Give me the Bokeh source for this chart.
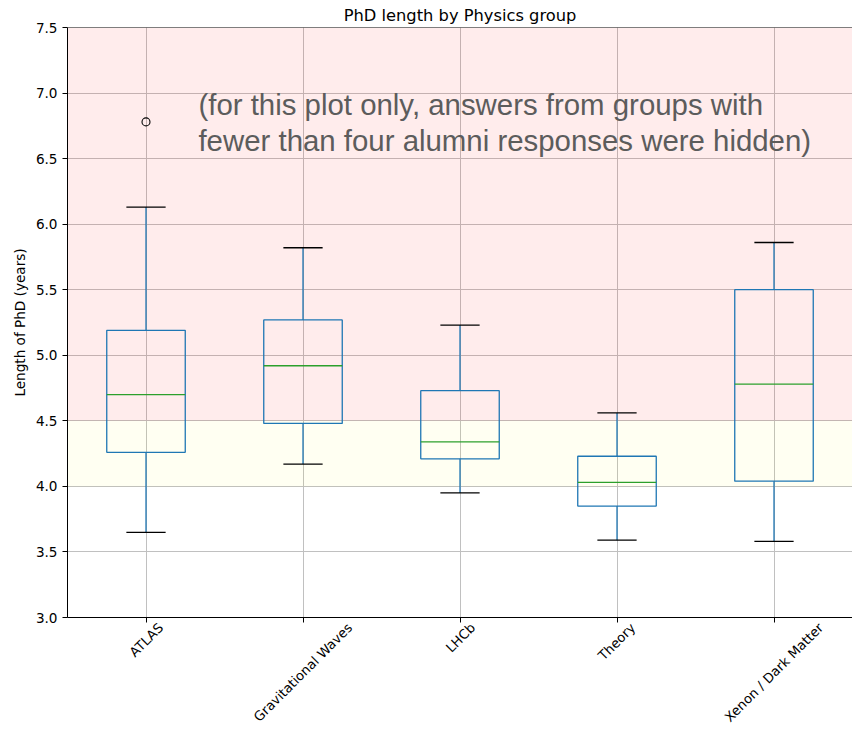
from bokeh.plotting import figure
from bokeh.models import (Range1d, FixedTicker, BoxAnnotation, Span, Label, LinearAxis,
                          PrintfTickFormatter, ColumnDataSource)
from bokeh.embed import file_html
from bokeh.resources import INLINE
import math

# ---- data ----
groups = ["ATLAS", "Gravitational Waves", "LHCb", "Theory", "Xenon / Dark Matter"]
whisker_low = [3.65, 4.17, 3.95, 3.59, 3.58]
q1 = [4.26, 4.48, 4.21, 3.85, 4.04]
median = [4.70, 4.92, 4.34, 4.03, 4.78]
q3 = [5.19, 5.27, 4.73, 4.23, 5.50]
whisker_high = [6.13, 5.82, 5.23, 4.56, 5.86]
outlier_group = ["ATLAS"]
outlier_value = [6.78]
y_ticks = [3.0, 3.5, 4.0, 4.5, 5.0, 5.5, 6.0, 6.5, 7.0, 7.5]
red_band = (4.5, 7.5)
yellow_band = (4.0, 4.5)

title = "PhD length by Physics group"
y_label = "Length of PhD (years)"
note = "(for this plot only, answers from groups with\nfewer than four alumni responses were hidden)"

# ---- layout ----
positions = [i + 1 for i in range(len(groups))]
pos_of = {g: p for g, p in zip(groups, positions)}
half_box = 0.25
half_cap = 0.125
PX_PER_UNIT = 157.0
# horizontal shift (px) so that each 45-degree label is centred on its tick
label_shift_px = [15, 47, 13, 16, 47]

BLUE = "#1f77b4"
GREEN = "#2ca02c"
FONT = "DejaVu Sans"

p = figure(width=852, height=733, output_backend="svg", toolbar_location=None,
           x_range=Range1d(0.5, 5.5), y_range=Range1d(3.0, 7.5),
           min_border_left=67, min_border_right=0, min_border_top=27,
           min_border_bottom=116)
p.outline_line_color = None
p.background_fill_color = "white"
p.border_fill_color = "white"

p.title.text = title
p.title.align = "center"
p.title.text_font = FONT
p.title.text_font_size = "16.3px"
p.title.text_font_style = "normal"
p.title.text_color = "black"
p.title.standoff = 6

# background bands
p.add_layout(BoxAnnotation(bottom=red_band[0], top=red_band[1], fill_color="red",
                           fill_alpha=0.075, line_color=None, level="underlay"))
p.add_layout(BoxAnnotation(bottom=yellow_band[0], top=yellow_band[1], fill_color="yellow",
                           fill_alpha=0.05, line_color=None, level="underlay"))

# grid
p.xgrid.ticker = FixedTicker(ticks=positions)
p.ygrid.ticker = FixedTicker(ticks=y_ticks)
for g in (p.xgrid, p.ygrid):
    g.grid_line_color = "#c0c0c0"
    g.grid_line_width = 1

# axes
p.yaxis.ticker = FixedTicker(ticks=y_ticks)
p.yaxis.formatter = PrintfTickFormatter(format="%.1f")
p.yaxis.axis_label = y_label
p.yaxis.axis_label_text_font = FONT
p.yaxis.axis_label_text_font_size = "13.6px"
p.yaxis.axis_label_text_font_style = "normal"
p.yaxis.axis_label_text_color = "black"
p.yaxis.axis_label_standoff = 5
p.xaxis.ticker = FixedTicker(ticks=positions)
p.xaxis.major_label_overrides = {pp: "" for pp in positions}
for ax in (p.xaxis, p.yaxis):
    ax.axis_line_color = "black"
    ax.axis_line_width = 1
    ax.major_tick_line_color = "black"
    ax.minor_tick_line_color = None
    ax.major_label_text_font = FONT
    ax.major_label_text_color = "black"
p.yaxis.major_tick_out = 5
p.yaxis.major_tick_in = 0
p.yaxis.major_label_text_font_size = "13.6px"
p.yaxis.major_label_standoff = 5
# x ticks drawn outward without reserving panel space
p.xaxis.major_tick_out = 0
p.xaxis.major_tick_in = -5
p.xaxis.major_label_text_font_size = "0px"
p.xaxis.major_label_standoff = 0

# category labels on a label-only axis (rotated 45 degrees)
label_ticks = [x + s / PX_PER_UNIT for x, s in zip(positions, label_shift_px)]
p.extra_x_ranges = {"lbl": Range1d(0.5, 5.5)}
lbl_axis = LinearAxis(x_range_name="lbl", ticker=FixedTicker(ticks=label_ticks),
                      major_label_overrides={t: g for t, g in zip(label_ticks, groups)},
                      major_label_orientation=math.pi / 4,
                      major_label_text_font=FONT, major_label_text_font_size="13.2px",
                      major_label_text_color="black", major_label_standoff=8,
                      axis_line_color=None, major_tick_line_color=None,
                      minor_tick_line_color=None, major_tick_out=0, major_tick_in=0)
p.add_layout(lbl_axis, "below")

# top spine
p.add_layout(Span(location=7.5, dimension="width", line_color="black", line_width=1))

# boxes
src = ColumnDataSource(dict(
    x=positions, left=[x - half_box for x in positions], right=[x + half_box for x in positions],
    cl=[x - half_cap for x in positions], cr=[x + half_cap for x in positions],
    wl=whisker_low, q1=q1, med=median, q3=q3, wh=whisker_high))

p.quad(left="left", right="right", bottom="q1", top="q3", source=src,
       fill_color=None, line_color=BLUE, line_width=1.3)
p.segment(x0="x", x1="x", y0="q3", y1="wh", source=src, line_color=BLUE, line_width=1.3)
p.segment(x0="x", x1="x", y0="q1", y1="wl", source=src, line_color=BLUE, line_width=1.3)
p.segment(x0="cl", x1="cr", y0="wh", y1="wh", source=src, line_color="black", line_width=1.3)
p.segment(x0="cl", x1="cr", y0="wl", y1="wl", source=src, line_color="black", line_width=1.3)
p.segment(x0="left", x1="right", y0="med", y1="med", source=src, line_color=GREEN, line_width=1.3)

p.scatter(x=[pos_of[g] for g in outlier_group], y=outlier_value, marker="circle", size=8,
          fill_color=None, line_color="black", line_width=1.1)

# note
p.add_layout(Label(x=1.334, y=7.04, text=note, text_align="left", text_baseline="top",
                   text_font="Liberation Sans", text_font_size="29.4px", text_color="#5c5c5c",
                   text_line_height=1.1))

open("out.html", "w").write(file_html(p, INLINE))
